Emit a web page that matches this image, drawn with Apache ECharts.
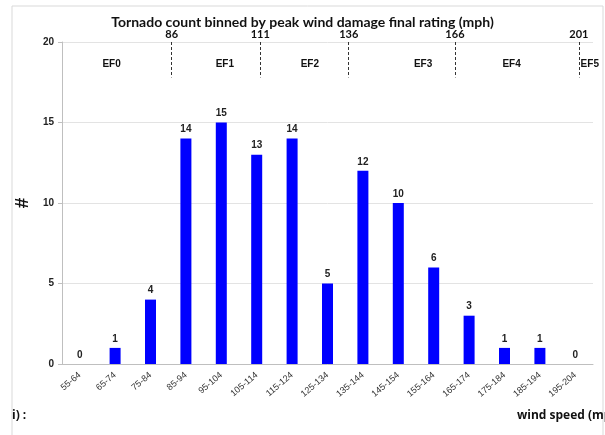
<!DOCTYPE html>
<html>
<head>
<meta charset="utf-8">
<script src="https://cdn.jsdelivr.net/npm/echarts@6/dist/echarts.min.js"></script>
<style>html,body{margin:0;padding:0;background:#fff}#c{width:605px;height:435px}</style>
</head>
<body>
<div id="c"></div>
<script>
var categories = ['55-64','65-74','75-84','85-94','95-104','105-114','115-124','125-134','135-144','145-154','155-164','165-174','175-184','185-194','195-204'];
var counts = [0,1,4,14,15,13,14,5,12,10,6,3,1,1,0];
var ratingBounds = [86,111,136,166,201];
var efNames = ['EF0','EF1','EF2','EF3','EF4','EF5'];
var efLabelAt = [69,101,125,157,182,201.5];
var yTicks = {min:0, max:20, interval:5};

var chart = echarts.init(document.getElementById('c'));
var efStyle = {fontFamily:'Liberation Sans', fontWeight:'bold', fontSize:10, color:'#111'};
chart.setOption({
  animation:false,
  title:{text:'Tornado count binned by peak wind damage final rating (mph)', left:'center', top:10,
    textStyle:{fontFamily:'Lato', fontWeight:'bold', fontSize:14, color:'#111'}},
  grid:{left:62, right:12, top:42, bottom:71},
  xAxis:[{
    type:'category', data:categories,
    axisLine:{lineStyle:{color:'#bfbfbf'}},
    axisTick:{show:false},
    axisLabel:{interval:0, rotate:40, fontSize:9, color:'#333', margin:10, fontFamily:'Liberation Sans'}
  },{
    type:'value', min:55, max:205, show:false
  }],
  yAxis:{
    type:'value', min:yTicks.min, max:yTicks.max, interval:yTicks.interval,
    name:'#', nameLocation:'middle', nameGap:28, nameRotate:90,
    nameTextStyle:{fontFamily:'Liberation Sans', fontWeight:'bold', fontSize:19, color:'#111'},
    axisLine:{show:true, lineStyle:{color:'#bfbfbf'}},
    axisTick:{show:true, length:4, lineStyle:{color:'#bfbfbf'}},
    axisLabel:{fontFamily:'Liberation Sans', fontWeight:'bold', fontSize:10, color:'#222', margin:8},
    splitLine:{lineStyle:{color:'#e3e3e3'}}
  },
  series:[{
    type:'bar', data:counts, barWidth:11, xAxisIndex:0,
    itemStyle:{color:'#0000ff'},
    label:{show:true, position:'top', distance:4, fontFamily:'Liberation Sans', fontWeight:'bold', fontSize:10, color:'#222'}
  },{
    type:'line', xAxisIndex:1, data:[], silent:true,
    markPoint:{
      silent:true, symbol:'circle', symbolSize:0,
      data:efNames.map(function(n,i){
        return {name:n, coord:[efLabelAt[i],18.6],
          label:{show:true, formatter:'{b}', position: i===5?'right':'inside', distance:0,
            fontFamily:efStyle.fontFamily, fontWeight:efStyle.fontWeight, fontSize:efStyle.fontSize, color:efStyle.color}};
      })
    },
    markLine:{
      silent:true, symbol:['none','none'],
      lineStyle:{type:[3,2], color:'#333', width:1},
      label:{show:true, position:'start', distance:2, formatter:'{b}', fontFamily:'Lato', fontWeight:'bold', fontSize:11, color:'#111'},
      data:ratingBounds.map(function(b){return [{name:String(b), coord:[b,20]},{coord:[b,17.8]}];})
    }
  }],
  graphic:[
    {type:'rect', shape:{x:12, y:6, width:591, height:440}, style:{fill:'none', stroke:'#d9d9d9', lineWidth:1}, z:-1},
    {type:'text', left:517, top:410, style:{text:'wind speed (mph)', font:'bold 12px "Open Sans"', fill:'#111'}},
    {type:'text', left:12, top:410, style:{text:'i) :', font:'bold 12px "Open Sans"', fill:'#111'}}
  ]
});
</script>
</body>
</html>
